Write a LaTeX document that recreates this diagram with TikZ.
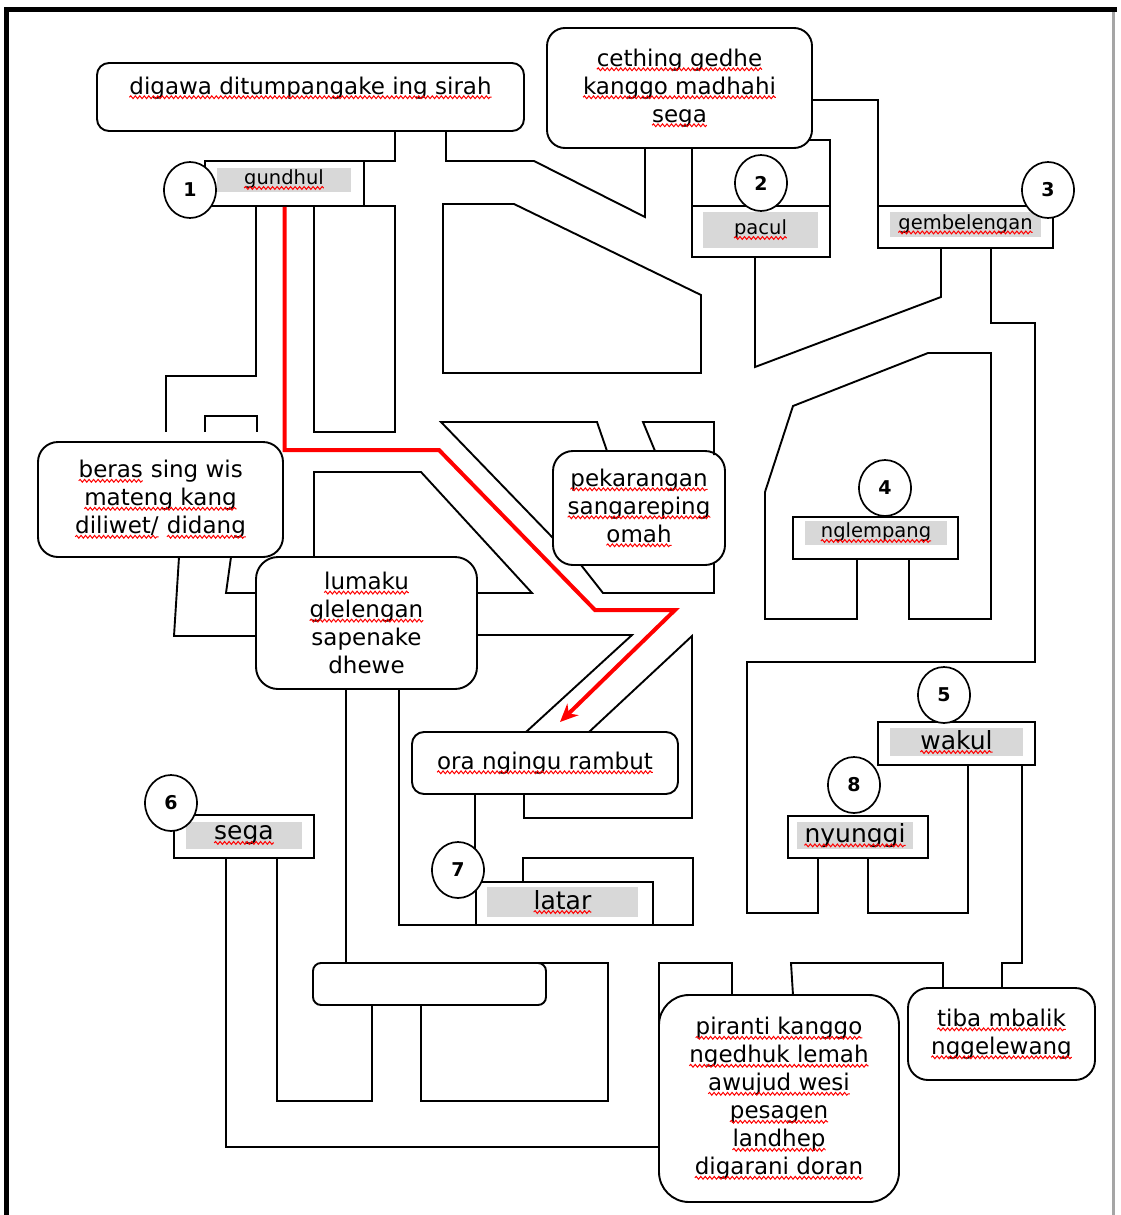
\documentclass[tikz,border=0pt]{standalone}
\usepackage{fontspec}
\setmainfont{DejaVu Sans}
\usetikzlibrary{shapes.geometric,arrows.meta,decorations.pathmorphing}
\definecolor{lblgray}{RGB}{216,216,216}
\definecolor{framegray}{RGB}{165,165,165}
\newcommand\boxfont{\fontsize{23}{28}\selectfont}
\newcommand\lblfont{\fontsize{19.5}{22}\selectfont}
\newcommand\biglblfont{\fontsize{25}{28}\selectfont}
\newcommand\circfont{\bfseries\fontsize{19}{21}\selectfont}
\newcommand\squig[1]{\tikz[baseline=(sqw.base)]{%
    \node[shape=rectangle, inner sep=0pt, outer sep=0pt, draw=none, fill=none,
          minimum width=0pt, minimum height=0pt, text depth=, text height=,
          anchor=base] (sqw) {#1};
    \draw[red, line width=1pt, sharp corners, decorate,
          decoration={snake, amplitude=1.4pt, segment length=4.5pt}]
          ([yshift=-3pt]sqw.base west) -- ([yshift=-3pt]sqw.base east);}}

\begin{document}
\begin{tikzpicture}[x=1pt, y=-1pt,
    wall/.style={line width=1.9pt},
    rbox/.style={draw, line width=1.9pt, rounded corners=#1, align=center, inner sep=0pt, font=\boxfont},
    lblbox/.style={draw, line width=1.9pt, inner sep=0pt},
    lbl/.style={fill=lblgray, inner sep=0pt, font=\lblfont},
    biglbl/.style={lbl, font=\biglblfont},
    numcirc/.style={ellipse, draw, fill=white, line width=1.7pt, minimum width=52pt, minimum height=56pt, inner sep=0pt, font=\circfont},
    route/.style={red, line width=4pt, -{Stealth[length=18pt, width=16pt]}}]

    \useasboundingbox (0,0) rectangle (1120,1215);

    \draw[line width=5pt] (6.5,1215) -- (6.5,10) -- (1117,10);
    \draw[framegray, line width=3pt] (1113,12) -- (1113,1215);

    \draw[wall] (395,131) -- (395,161) -- (364,161);
    \draw[wall] (364,206) -- (395,206) -- (395,432) -- (314,432) -- (314,206);
    \draw[wall] (256,206) -- (256,376) -- (166,376) -- (166,432);
    \draw[wall] (205,432) -- (205,416) -- (257,416) -- (257,432);
    \draw[wall] (446,131) -- (446,161) -- (534,161) -- (645,217) -- (645,148);
    \draw[wall] (443,204) -- (514,204) -- (701,295) -- (701,373) -- (443,373) -- cycle;
    \draw[wall] (812,100) -- (878,100) -- (878,206);
    \draw[wall] (808,140) -- (830,140) -- (830,206);
    \draw[wall] (692,206) -- (692,148);
    \draw[wall] (755,257) -- (755,367) -- (941,297) -- (941,248);
    \draw[wall] (991,248) -- (991,323) -- (1035,323) -- (1035,662) -- (747,662) -- (747,913) -- (818,913) -- (818,858);
    \draw[wall] (857,559) -- (857,619) -- (765,619) -- (765,492) -- (793,406) -- (928,353) -- (991,353) -- (991,619) -- (909,619) -- (909,559);
    \draw[wall] (553,538) -- (441,422) -- (597,422) -- (607,451);
    \draw[wall] (655,451) -- (643,422) -- (714,422) -- (714,455);
    \draw[wall] (581,565) -- (603,593) -- (714,593) -- (714,562);
    \draw[wall] (179,557) -- (174,636) -- (256,636);
    \draw[wall] (231,557) -- (226,593) -- (256,593);
    \draw[wall] (314,557) -- (314,472) -- (421,472) -- (532,593) -- (477,593);
    \draw[wall] (477,635) -- (632,635) -- (526,732);
    \draw[wall] (346,689) -- (346,963);
    \draw[wall] (399,689) -- (399,925) -- (693,925) -- (693,858) -- (523,858) -- (523,882);
    \draw[wall] (475,794) -- (475,882);
    \draw[wall] (524,794) -- (524,818) -- (692,818) -- (692,636) -- (589,732);
    \draw[wall] (226,858) -- (226,1147) -- (659,1147);
    \draw[wall] (277,858) -- (277,1101) -- (372,1101) -- (372,1005);
    \draw[wall] (538,963) -- (608,963) -- (608,1101) -- (421,1101) -- (421,1005);
    \draw[wall] (659,1025) -- (659,963) -- (732,963) -- (732,995);
    \draw[wall] (793,995) -- (791,963) -- (943,963) -- (943,988);
    \draw[wall] (1002,988) -- (1002,963) -- (1022,963) -- (1022,765);
    \draw[wall] (968,765) -- (968,913) -- (868,913) -- (868,858);

    \node[rbox=12pt, minimum width=427pt, minimum height=68pt, text depth=23pt] (sirah) at (310.5,97) {\squig{digawa ditumpangake ing sirah}};
    \node[rbox=18pt, minimum width=265pt, minimum height=120pt] (cething) at (679.5,88) {\squig{cething gedhe}\\\squig{kanggo madhahi}\\\squig{sega}};
    \node[rbox=20pt, minimum width=172pt, minimum height=114pt] (pekarangan) at (639,508) {\squig{pekarangan}\\\squig{sangareping}\\\squig{omah}};
    \node[rbox=20pt, minimum width=245pt, minimum height=115pt] (beras) at (160.5,499.5) {\squig{beras} sing wis\\\squig{mateng kang}\\\squig{diliwet/} \squig{didang}};
    \node[rbox=22pt, minimum width=221pt, minimum height=132pt] (lumaku) at (366.5,623) {\squig{lumaku}\\\squig{glelengan}\\sapenake\\dhewe};
    \node[rbox=12pt, minimum width=266pt, minimum height=62pt] (rambut) at (545,763) {\squig{ora ngingu rambut}};
    \node[rbox=8pt, minimum width=233pt, minimum height=42pt] (kosong) at (429.5,984) {};
    \node[rbox=30pt, minimum width=240pt, minimum height=207pt] (doran) at (779,1098.5) {\squig{piranti kanggo}\\\squig{ngedhuk lemah}\\\squig{awujud wesi}\\\squig{pesagen}\\\squig{landhep}\\\squig{digarani doran}};
    \node[rbox=20pt, minimum width=187pt, minimum height=92pt] (mbalik) at (1001.5,1034) {\squig{tiba mbalik}\\\squig{nggelewang}};

    \node[lblbox, minimum width=159pt, minimum height=45pt] (gundhulbox) at (284.5,183.5) {};
    \node[lbl, minimum width=134pt, minimum height=24pt] (gundhul) at (284,180) {\squig{gundhul}};
    \node[lblbox, minimum width=138pt, minimum height=51pt] (paculbox) at (761,231.5) {};
    \node[lbl, minimum width=115pt, minimum height=36pt] (pacul) at (760.5,230) {\squig{pacul}};
    \node[lblbox, minimum width=175pt, minimum height=42pt] (gembelenganbox) at (965.5,227) {};
    \node[lbl, minimum width=151pt, minimum height=25pt] (gembelengan) at (965.5,224.5) {\squig{gembelengan}};
    \node[lblbox, minimum width=165pt, minimum height=42pt] (nglempangbox) at (875.5,538) {};
    \node[lbl, minimum width=142pt, minimum height=24pt] (nglempang) at (876,533) {\squig{nglempang}};
    \node[lblbox, minimum width=157pt, minimum height=43pt] (wakulbox) at (956.5,743.5) {};
    \node[biglbl, minimum width=133pt, minimum height=28pt] (wakul) at (956.5,742) {\squig{wakul}};
    \node[lblbox, minimum width=140pt, minimum height=42pt] (nyunggibox) at (858,837) {};
    \node[biglbl, minimum width=116pt, minimum height=27pt] (nyunggi) at (855,835.5) {\squig{nyunggi}};
    \node[lblbox, minimum width=140pt, minimum height=43pt] (segabox) at (244,836.5) {};
    \node[biglbl, minimum width=116pt, minimum height=27pt] (sega) at (244,835.5) {\squig{sega}};
    \node[lblbox, minimum width=177pt, minimum height=43pt] (latarbox) at (564.5,903.5) {};
    \node[biglbl, minimum width=151pt, minimum height=30pt] (latar) at (562.5,902) {\squig{latar}};

    \node[numcirc] (n1) at (190,190) {1};
    \node[numcirc] (n2) at (761,183) {2};
    \node[numcirc] (n3) at (1048,190) {3};
    \node[numcirc] (n4) at (885,488) {4};
    \node[numcirc] (n5) at (944,695) {5};
    \node[numcirc] (n6) at (171,803) {6};
    \node[numcirc] (n7) at (458,870) {7};
    \node[numcirc] (n8) at (854,785) {8};

    \coordinate (goal) at (560,722);
    \draw[route] (gundhulbox.south) |- (439,450) -- (595,610) -- (675,610) -- (goal);
\end{tikzpicture}
\end{document}
